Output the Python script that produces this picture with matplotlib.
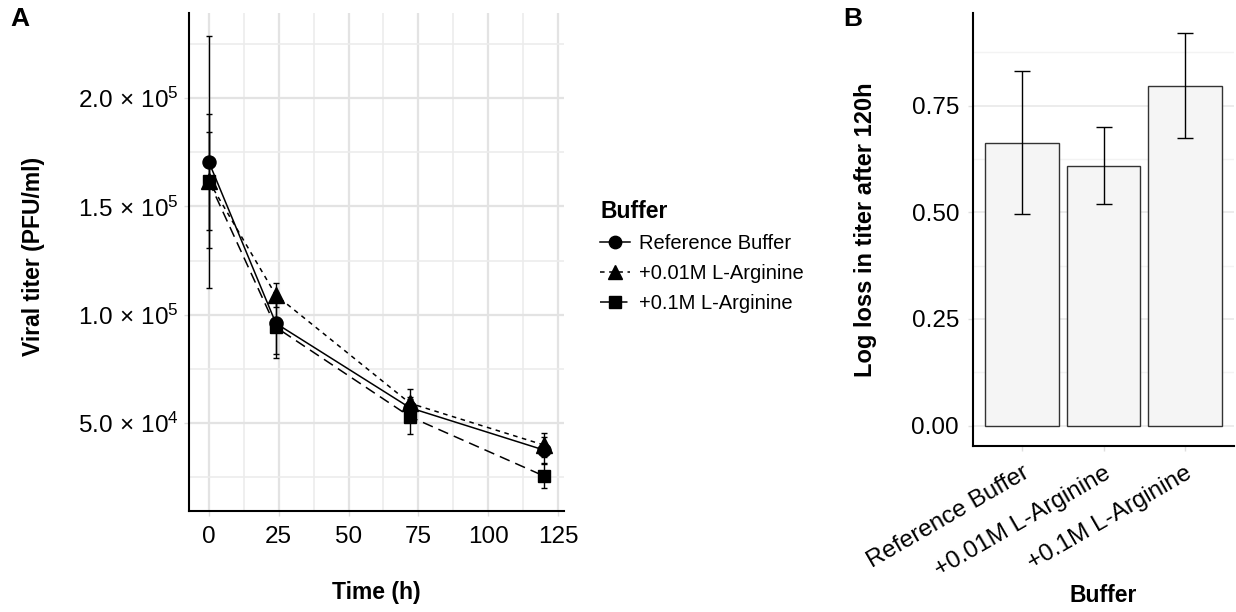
import numpy as np
import matplotlib
matplotlib.use("Agg")
import matplotlib.pyplot as plt
from matplotlib.lines import Line2D
from matplotlib.ticker import MultipleLocator, FuncFormatter

plt.rcParams['font.family'] = ['Liberation Sans', 'DejaVu Sans']
plt.rcParams['mathtext.fontset'] = 'custom'
plt.rcParams['mathtext.rm'] = 'Liberation Sans'
plt.rcParams['mathtext.it'] = 'Liberation Sans:italic'
plt.rcParams['mathtext.bf'] = 'Liberation Sans:bold'

# titer over time, mean and sd per buffer
time_h = [0, 24, 72, 120]
ref_mean = [170500, 96000, 57000, 37500]
ref_sd = [58100, 14000, 5000, 6100]
arg001_mean = [161600, 109000, 59100, 39800]
arg001_sd = [30900, 5400, 6500, 5700]
arg01_mean = [161600, 94200, 52900, 25500]
arg01_sd = [22700, 14400, 8000, 5400]

# log loss after 120h
buffers = ["Reference Buffer", "+0.01M L-Arginine", "+0.1M L-Arginine"]
log_loss = [0.663, 0.609, 0.796]
log_loss_sd = [0.167, 0.090, 0.123]

W, H = 1236, 612
fig = plt.figure(figsize=(W / 100, H / 100), dpi=100)


def px_axes(left, top, right, bottom):
    return fig.add_axes([left / W, 1 - bottom / H, (right - left) / W, (bottom - top) / H])


def sci_fmt(v, pos):
    if v <= 0:
        return ""
    e = int(np.floor(np.log10(v)))
    m = v / 10 ** e
    return r"$\mathrm{%.1f}\,\times\,\mathrm{10}^{\mathrm{%d}}$" % (m, e)


def style_axes(ax):
    for s in ['top', 'right']:
        ax.spines[s].set_visible(False)
    for s in ['left', 'bottom']:
        ax.spines[s].set_linewidth(1.5)
        ax.spines[s].set_color('black')
    ax.tick_params(which='major', length=3.5, width=1, color='#dedede',
                   labelsize=17.5, labelcolor='black', pad=4)
    ax.tick_params(which='minor', length=0)
    ax.set_axisbelow(True)


# --- panel A: titer time course ---
axA = px_axes(189, 13, 564, 511)
style_axes(axA)
series = [
    ("Reference Buffer", ref_mean, ref_sd, '-', 'o', 9.4),
    ("+0.01M L-Arginine", arg001_mean, arg001_sd, (0, (3, 3)), '^', 11),
    ("+0.1M L-Arginine", arg01_mean, arg01_sd, (0, (7, 4)), 's', 8.6),
]
for name, mean, sd, ls, mk, ms in series:
    axA.errorbar(time_h, mean, yerr=sd, fmt='none', ecolor='black',
                 elinewidth=1, capsize=2, capthick=1, zorder=2)
    axA.plot(time_h, mean, color='black', linestyle=ls, linewidth=1.1, zorder=3)
    axA.plot(time_h, mean, linestyle='none', marker=mk, markersize=ms,
             color='black', zorder=4)

axA.set_xlim(-7.1, 127.1)
axA.set_ylim(9385, 239231)
axA.xaxis.set_major_locator(MultipleLocator(25))
axA.xaxis.set_minor_locator(MultipleLocator(12.5))
axA.yaxis.set_major_locator(MultipleLocator(50000))
axA.yaxis.set_minor_locator(MultipleLocator(25000))
axA.yaxis.set_major_formatter(FuncFormatter(sci_fmt))
axA.grid(which='major', color='#e3e3e3', linewidth=1.6)
axA.grid(which='minor', color='#ececec', linewidth=1.2)
axA.tick_params(axis='x', pad=7)

fig.text(376 / W, 1 - 592 / H, "Time (h)", ha='center', va='center',
         fontsize=16.5, fontweight='bold')
fig.text(34 / W, 1 - 256 / H, "Viral titer (PFU/ml)", ha='center', va='center',
         rotation=90, fontsize=16.5, fontweight='bold')

handles = [Line2D([], [], color='black', linestyle=ls, linewidth=1.1, marker=mk,
                  markersize=ms * 0.95) for _, _, _, ls, mk, ms in series]
leg = fig.legend(handles, [s[0] for s in series], loc='upper left',
                 bbox_to_anchor=(600 / W, 1 - 200 / H), frameon=False,
                 fontsize=14.5, title="Buffer", alignment='left',
                 title_fontproperties={'weight': 'bold', 'size': 16.5},
                 handlelength=1.5, handletextpad=0.45, labelspacing=0.55,
                 borderpad=0, borderaxespad=0)

# --- panel B: log loss bars ---
axB = px_axes(973, 13, 1234, 446)
style_axes(axB)
pos = np.arange(1, len(buffers) + 1)
axB.bar(pos, log_loss, width=0.9, color='#f5f5f5', edgecolor='#333333',
        linewidth=1, zorder=2)
axB.errorbar(pos, log_loss, yerr=log_loss_sd, fmt='none', ecolor='black',
             elinewidth=1, capsize=5.9, capthick=1, zorder=3)
axB.set_xlim(0.4, 3.6)
axB.set_ylim(-0.0476, 0.967)
axB.set_xticks(pos)
axB.set_xticklabels(buffers, rotation=30, ha='right', rotation_mode='anchor')
axB.yaxis.set_major_locator(MultipleLocator(0.25))
axB.yaxis.set_minor_locator(MultipleLocator(0.125))
axB.yaxis.set_major_formatter(FuncFormatter(lambda v, p: "%.2f" % v))
axB.grid(axis='y', which='major', color='#ebebeb', linewidth=1.3)
axB.grid(axis='y', which='minor', color='#f3f3f3', linewidth=1.0)
axB.tick_params(axis='x', pad=8)
axB.tick_params(axis='y', pad=6.5)

fig.text(1103 / W, 1 - 596 / H, "Buffer", ha='center', va='center',
         fontsize=16.5, fontweight='bold')
fig.text(866 / W, 1 - 230 / H, "Log loss in titer after 120h", ha='center',
         va='center', rotation=90, fontsize=17, fontweight='bold')

# panel letters
fig.text(10 / W, 1 - 19 / H, "A", ha='left', va='center', fontsize=19, fontweight='bold')
fig.text(843 / W, 1 - 19 / H, "B", ha='left', va='center', fontsize=19, fontweight='bold')

fig.savefig("out.png", dpi=100, facecolor='white')
